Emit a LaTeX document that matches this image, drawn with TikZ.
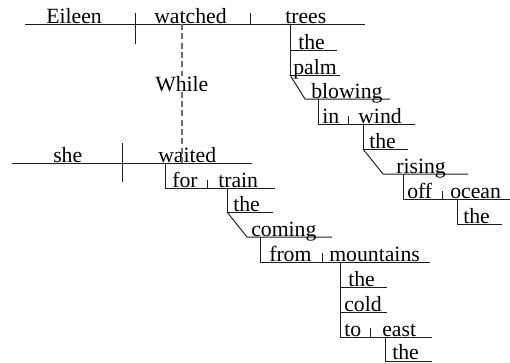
\documentclass[tikz,border=0pt]{standalone}
\usepackage{fontspec}
\setmainfont{Liberation Serif}
\usepackage{tikz}
\usetikzlibrary{positioning,calc}
\definecolor{rulegray}{RGB}{30,30,30}
\definecolor{dashgray}{RGB}{110,110,110}

\tikzset{
    word/.style={anchor=base west, inner sep=0pt, font=\fontsize{16.3}{19}\selectfont},
    rule/.style={draw=rulegray, line width=0.75pt},
    guide/.style={draw=dashgray, line width=0.9pt, dash pattern=on 4.5pt off 2.5pt},
}

\begin{document}
\begin{tikzpicture}[x=0.75pt, y=-0.75pt]
    \useasboundingbox (0,0) rectangle (510,362);

    % main clause
    \node[word] (eileen) at (46,23) {Eileen};
    \node[word] (watched) at (154,23) {watched};
    \node[word] (trees) at (285,23) {trees};
    \node[word] (the1) at (298,49) {the};
    \node[word] (palm) at (293,74) {palm};
    \node[word] (blowing) at (311,98) {blowing};
    \node[word] (in) at (322,123) {in};
    \node[word] (wind) at (358,123) {wind};
    \node[word] (the2) at (369,148) {the};
    \node[word] (rising) at (396,173) {rising};
    \node[word] (off) at (407,198) {off};
    \node[word] (ocean) at (450,198) {ocean};
    \node[word] (the3) at (463,223) {the};

    \draw[rule] (25,24) -- (365,24);
    \draw[rule] (135,13) -- (135,44);
    \draw[rule] (250,13) -- (250,24);
    \draw[rule] (290,24) -- (290,75);
    \draw[rule] (290,50) -- (337,50);
    \draw[rule] (290,75) -- (340,75);
    \draw[rule] (290,75) -- (305,99) -- (390,99);
    \draw[rule] (318,99) -- (318,124) -- (415,124);
    \draw[rule] (348,116) -- (348,124);
    \draw[rule] (363,124) -- (363,149) -- (408,149);
    \draw[rule] (363,149) -- (383,174) -- (468,174);
    \draw[rule] (403,174) -- (403,199) -- (510,199);
    \draw[rule] (442,191) -- (442,199);
    \draw[rule] (457,199) -- (457,224) -- (502,224);

    % subordinate clause
    \node[word] (while) at (155,91) {While};
    \node[word] (she) at (53,162) {she};
    \node[word] (waited) at (158,162) {waited};
    \node[word] (for) at (172,187) {for};
    \node[word] (train) at (218,187) {train};
    \node[word] (the4) at (233,211) {the};
    \node[word] (coming) at (251,236) {coming};
    \node[word] (from) at (269,261) {from};
    \node[word] (mountains) at (329,261) {mountains};
    \node[word] (the5) at (348,286) {the};
    \node[word] (cold) at (344,311) {cold};
    \node[word] (to) at (344,336) {to};
    \node[word] (east) at (382,336) {east};
    \node[word] (the6) at (392,359) {the};

    \coordinate (top) at (182,24);
    \coordinate (bot) at (182,163);
    \draw[guide] (top) -- (top |- while.north);
    \draw[guide] (bot |- while.south) -- (bot);

    \draw[rule] (12,163) -- (252,163);
    \draw[rule] (122,143) -- (122,182);
    \draw[rule] (165,163) -- (165,188) -- (275,188);
    \draw[rule] (207,180) -- (207,188);
    \draw[rule] (227,188) -- (227,212) -- (273,212);
    \draw[rule] (227,212) -- (247,237) -- (332,237);
    \draw[rule] (260,237) -- (260,262) -- (430,262);
    \draw[rule] (322,253) -- (322,262);
    \draw[rule] (340,262) -- (340,337) -- (432,337);
    \draw[rule] (340,287) -- (387,287);
    \draw[rule] (340,312) -- (387,312);
    \draw[rule] (370,328) -- (370,337);
    \draw[rule] (385,337) -- (385,361) -- (432,361);
\end{tikzpicture}
\end{document}
